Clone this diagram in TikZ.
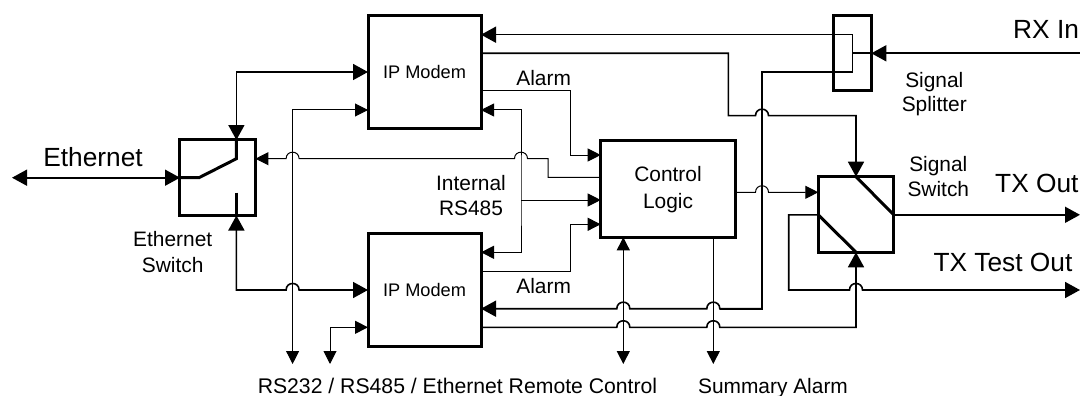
\documentclass[tikz,border=0pt]{standalone}
\usepackage{fontspec}
\setmainfont{Liberation Sans}
\usetikzlibrary{arrows.meta,calc}
\newcommand{\bigf}{\fontsize{26.3}{30}\selectfont}
\newcommand{\midf}{\fontsize{20.9}{26}\selectfont}
\newcommand{\remf}{\fontsize{21.2}{26}\selectfont}
\newcommand{\smlf}{\fontsize{18.2}{22}\selectfont}
\tikzset{
  x=1pt,y=-1pt,
  box/.style={draw=black,line width=3pt,fill=none,inner sep=0pt,outer sep=0pt,font=\smlf},
  inner/.style={line width=3pt},
  med/.style={line width=1.6pt,line join=miter},
  thn/.style={line width=1pt,line join=miter},
  bt/.tip={Triangle[length=15pt,width=16pt]},
  st/.tip={Triangle[length=13pt,width=13pt]},
  lab/.style={anchor=base,inner sep=0pt,font=\midf,align=center},
  biglab/.style={anchor=base west,inner sep=0pt,font=\bigf},
  jmp/.style 2 args={insert path={-- ({#1-6.5},{#2}) .. controls ({#1-6.5},{#2-8.7}) and ({#1+6.5},{#2-8.7}) .. ({#1+6.5},{#2})}}
}
\begin{document}
\begin{tikzpicture}
\useasboundingbox (0,0) rectangle (1080,396);
\clip (0,0) rectangle (1080,396);
% blocks
\node[box,minimum width=113pt,minimum height=112.5pt] (modemA) at (424.5,72) {IP Modem};
\node[box,minimum width=113pt,minimum height=112.5pt] (modemB) at (424.5,290) {IP Modem};
\node[box,minimum width=75.5pt,minimum height=75.5pt] (ethsw) at (217.7,177.7) {};
\node[box,minimum width=135pt,minimum height=96.6pt] (ctrl) at (668.2,189) {};
\node[box,minimum width=38pt,minimum height=75pt] (split) at (852.3,53.2) {};
\node[box,minimum width=75.4pt,minimum height=75.6pt] (sigsw) at (856,214.5) {};
% labels
\node[lab] (lctrla) at (668,181.7) {Control};
\node[lab] (lctrlb) at (668,208.7) {Logic};
\node[biglab,anchor=base] (leth) at (93,166.7) {Ethernet};
\node[lab] (lswa) at (172.7,246) {Ethernet};
\node[lab] (lswb) at (172.7,272) {Switch};
\node[lab,font=\remf] (lrem) at (457.5,393.5) {RS232 / RS485 / Ethernet Remote Control};
\node[lab] (lsum) at (773,393.5) {Summary Alarm};
\node[lab] (lalarma) at (543.7,86) {Alarm};
\node[lab] (lalarmb) at (543.7,293.3) {Alarm};
\node[lab] (lrsa) at (471,190) {Internal};
\node[lab] (lrsb) at (471,215) {RS485};
\node[lab] (lspa) at (934.3,87.3) {Signal};
\node[lab] (lspb) at (934.3,112) {Splitter};
\node[lab] (lssa) at (938.3,171.3) {Signal};
\node[lab] (lssb) at (938.3,196.7) {Switch};
\node[biglab] (lrx) at (1013,38.7) {RX In};
\node[biglab] (ltx) at (995,192.7) {TX Out};
\node[biglab] (ltt) at (933.3,271.7) {TX Test Out};
% ports and free ends
\coordinate (ethL) at (12,177.7);
\coordinate (ethW) at (180,177.7);
\coordinate (ethE) at (255.4,158.7);
\coordinate (ethN) at (236.4,140);
\coordinate (ethS) at (236.4,215.5);
\coordinate (aW1) at (368,72);
\coordinate (aW2) at (368,110);
\coordinate (aE1) at (481,34.7);
\coordinate (aE2) at (481,53.3);
\coordinate (aE3) at (481,90.7);
\coordinate (aE4) at (481,110);
\coordinate (bW1) at (368,290);
\coordinate (bW2) at (368,327.3);
\coordinate (bE1) at (481,252.3);
\coordinate (bE2) at (481,271);
\coordinate (bE3) at (481,308.7);
\coordinate (bE4) at (481,327.3);
\coordinate (cW1) at (600.7,155);
\coordinate (cW2) at (600.7,177.3);
\coordinate (cW3) at (600.7,200);
\coordinate (cW4) at (600.7,224.3);
\coordinate (cE) at (735.7,192.3);
\coordinate (cS1) at (623.3,237.3);
\coordinate (cS2) at (713.3,237.3);
\coordinate (rsA) at (292.6,364);
\coordinate (rsB) at (330,364);
\coordinate (rcE) at (623.3,364);
\coordinate (sumE) at (713.3,364);
\coordinate (rsT) at (521,200);
\coordinate (spIn) at (871.3,53.3);
\coordinate (spC) at (852.3,53.3);
\coordinate (rxE) at (1080,53.3);
\coordinate (swN) at (856,176.7);
\coordinate (swS) at (856,252.3);
\coordinate (swW) at (818.3,192.3);
\coordinate (swW2) at (818.3,214.8);
\coordinate (swE) at (893.7,214.8);
\coordinate (txE) at (1080,214.8);
\coordinate (ttE) at (1080,290);
% inner switch contacts
\draw[inner,line join=miter] (ethW) -- (199,177.7) -- (236.4,158.7) -- (ethN);
\draw[inner] (236.4,192.7) -- (ethS);
\draw[inner] (swN) -- (swE);
\draw[inner] (swW2) -- (swS);
% heavier connectors
\draw[med,{bt}-{bt}] (ethL) -- (ethW);
\draw[med,{bt}-{bt}] (ethN) |- (aW1);
\draw[med,{bt}-{bt}] (ethS) |- (236.4,290) [jmp={292.6}{290}] -- (bW1);
\draw[med,{bt}-] (aE1) -- (852.3,34.7) -- (852.3,72) -- (762,72) -- (762,308.7) -- (719.8,308.7);
\draw[med,{bt}-] (bE3) [jmp={623.3}{308.7}] [jmp={713.3}{308.7}] -- (762,308.7);
\draw[med,-{bt}] (aE2) -- (728.3,53.3) -- (728.3,115.7) [jmp={762}{115.7}] -| (swN);
\draw[med,-{bt}] (bE4) [jmp={623.3}{327.3}] [jmp={713.3}{327.3}] -- (856,327.3) -- (swS);
\draw[med,-{bt}] (swE) -- (txE);
\draw[med,-{bt}] (swW2) -- (788.7,214.8) -- (788.7,290) [jmp={856}{290}] -- (ttE);
\draw[med,{bt}-] (spIn) -- (rxE);
\draw[med] (spC) -- (spIn);
% thin connectors
\draw[thn,{st}-{st}] (aW2) -| (rsA);
\draw[thn,{st}-{st}] (bW2) -| (rsB);
\draw[thn,{st}-] (ethE) [jmp={292.6}{158.7}] [jmp={521}{158.7}] -- (548,158.7) |- (cW2);
\draw[thn,{st}-{st}] (aE4) -| (521,200) |- (bE1);
\draw[thn,-{st}] (rsT) -- (cW3);
\draw[thn,-{st}] (aE3) -| (570.7,155) -- (cW1);
\draw[thn,-{st}] (bE2) -| (570.7,224.3) -- (cW4);
\draw[thn,{st}-{st}] (cS1) -- (rcE);
\draw[thn,-{st}] (cS2) -- (sumE);
\draw[thn,-{st}] (cE) [jmp={762}{192.3}] -- (swW);
\end{tikzpicture}
\end{document}
